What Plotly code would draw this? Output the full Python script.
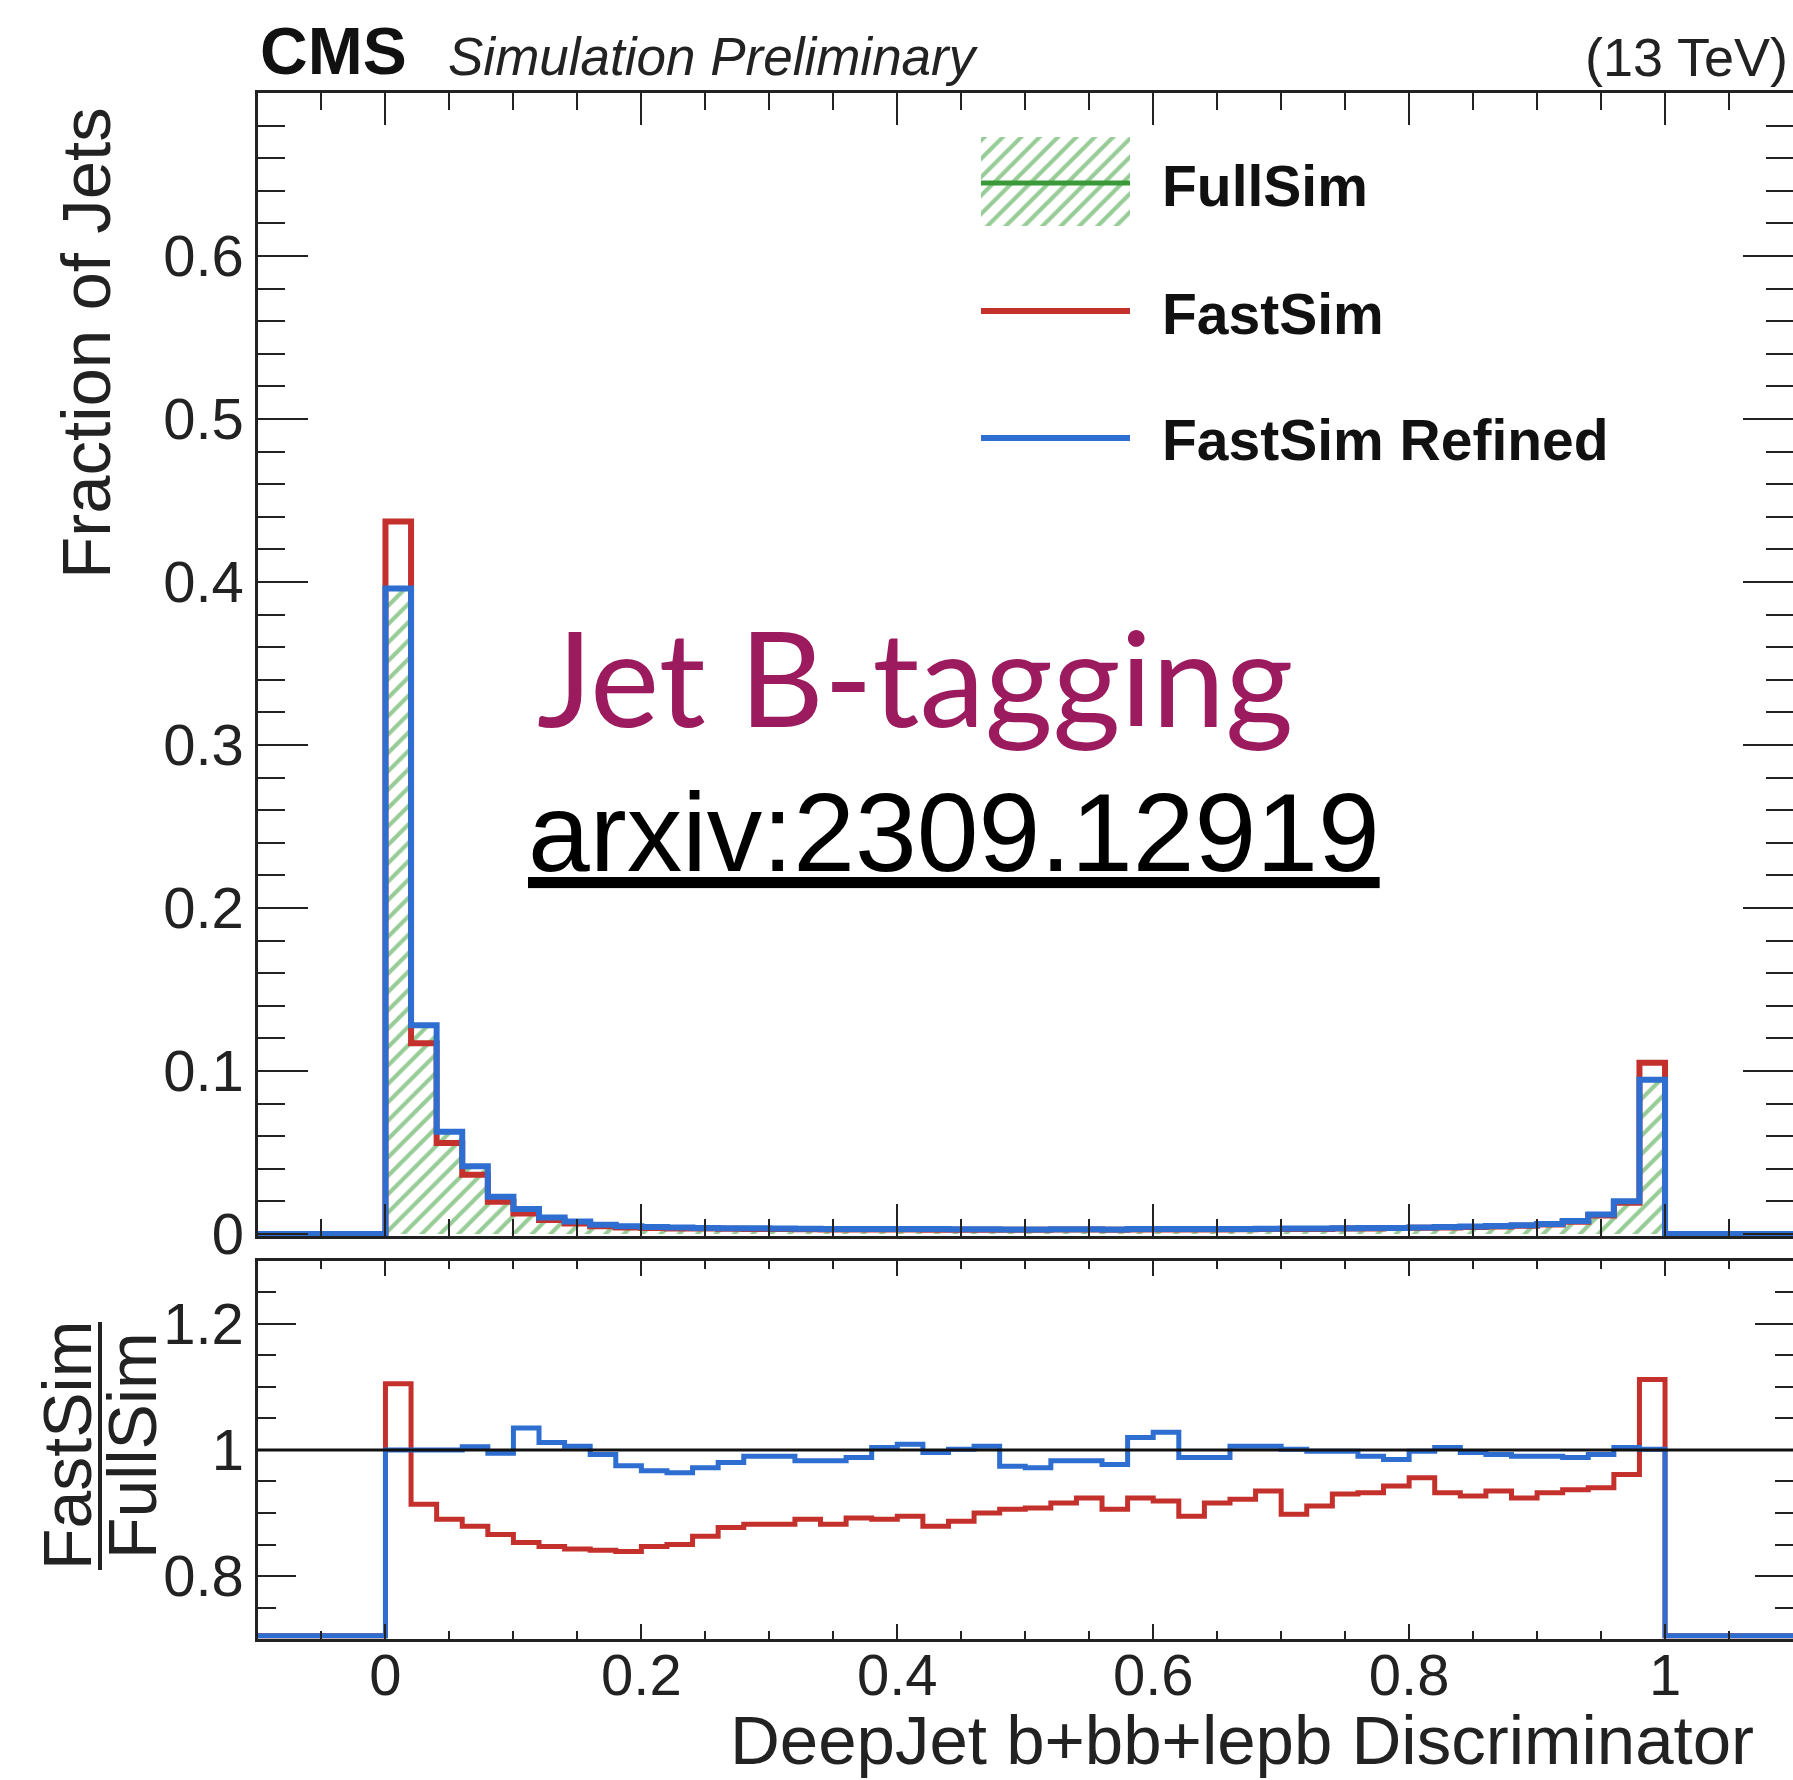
import numpy as np
import plotly.graph_objects as go

# ---------------- data (bins of width 0.02 from 0 to 1) ----------------
bin_width = 0.02
fullsim = [0.396, 0.128, 0.0627, 0.0413, 0.0229, 0.0148, 0.0100, 0.0076, 0.0056, 0.0048,
           0.0044, 0.0040, 0.0038, 0.0036, 0.0035, 0.0034, 0.0033, 0.0032, 0.0031, 0.0031,
           0.0030, 0.0030, 0.0029, 0.0029, 0.0029, 0.0029, 0.0029, 0.0029, 0.0029, 0.0030,
           0.0030, 0.0030, 0.0031, 0.0031, 0.0032, 0.0033, 0.0034, 0.0035, 0.0036, 0.0038,
           0.0040, 0.0042, 0.0045, 0.0049, 0.0054, 0.0062, 0.0080, 0.0120, 0.0200, 0.0945]
fastsim = [0.437, 0.117, 0.0558, 0.0363, 0.0198, 0.0126, 0.0085, 0.0064, 0.0047, 0.0040,
           0.0037, 0.0034, 0.0033, 0.0032, 0.0031, 0.0030, 0.0029, 0.0028, 0.0028, 0.0028,
           0.0027, 0.0026, 0.0026, 0.0026, 0.0026, 0.0026, 0.0027, 0.0027, 0.0026, 0.0028,
           0.0028, 0.0027, 0.0028, 0.0029, 0.0030, 0.0030, 0.0031, 0.0033, 0.0034, 0.0036,
           0.0038, 0.0039, 0.0042, 0.0046, 0.0050, 0.0058, 0.0075, 0.0113, 0.0192, 0.1051]
refined = [0.396, 0.128, 0.0627, 0.0415, 0.0228, 0.0153, 0.0101, 0.0076, 0.0056, 0.0047,
           0.0043, 0.0039, 0.0037, 0.0035, 0.0035, 0.0034, 0.0032, 0.0031, 0.0031, 0.0031,
           0.0030, 0.0030, 0.0029, 0.0029, 0.0028, 0.0028, 0.0029, 0.0029, 0.0028, 0.0031,
           0.0031, 0.0030, 0.0031, 0.0031, 0.0032, 0.0033, 0.0034, 0.0035, 0.0036, 0.0037,
           0.0040, 0.0042, 0.0045, 0.0049, 0.0053, 0.0061, 0.0079, 0.0119, 0.0201, 0.0946]

ratio_fastsim = [1.105, 0.914, 0.890, 0.879, 0.866, 0.853, 0.847, 0.843, 0.841, 0.839,
                 0.847, 0.850, 0.863, 0.877, 0.882, 0.882, 0.890, 0.882, 0.892, 0.890,
                 0.895, 0.879, 0.887, 0.900, 0.906, 0.908, 0.916, 0.924, 0.906, 0.924,
                 0.919, 0.895, 0.916, 0.922, 0.935, 0.898, 0.911, 0.930, 0.932, 0.943,
                 0.956, 0.932, 0.927, 0.935, 0.924, 0.932, 0.937, 0.940, 0.961, 1.112]
ratio_refined = [1.000, 1.000, 1.000, 1.005, 0.995, 1.035, 1.012, 1.006, 0.993, 0.975,
                 0.967, 0.964, 0.972, 0.980, 0.990, 0.990, 0.983, 0.983, 0.988, 1.004,
                 1.009, 0.996, 1.001, 1.006, 0.974, 0.972, 0.983, 0.983, 0.977, 1.020,
                 1.028, 0.988, 0.988, 1.006, 1.006, 1.001, 0.998, 0.998, 0.990, 0.985,
                 0.998, 1.004, 0.996, 0.993, 0.990, 0.990, 0.988, 0.993, 1.004, 1.001]

x_tick_vals = [0, 0.2, 0.4, 0.6, 0.8, 1.0]
x_tick_text = ["0", "0.2", "0.4", "0.6", "0.8", "1"]
y_tick_vals = [0, 0.1, 0.2, 0.3, 0.4, 0.5, 0.6]
y_tick_text = ["0", "0.1", "0.2", "0.3", "0.4", "0.5", "0.6"]
r_tick_vals = [0.8, 1.0, 1.2]
r_tick_text = ["0.8", "1", "1.2"]

# ---------------- helpers ----------------
W, H = 1793, 1780
XMIN, XMAX = -0.1, 1.1
n_pad = int(round((0 - XMIN) / bin_width))
edges = np.round(np.arange(XMIN, XMAX + 1e-9, bin_width), 4)


def step(vals):
    v = np.concatenate([np.zeros(n_pad), np.asarray(vals, float), np.zeros(n_pad)])
    return edges, np.append(v, v[-1])


RED = "#c4302b"
BLUE = "#2e6ed0"
GREEN = "#3a9a3a"
HATCH = "#2f9a2f"
FONT = "Liberation Sans, Arial, Helvetica, sans-serif"
AX = "#222222"
LW = 6

fig = go.Figure()

# ---- main panel ----
xs, ys = step(fullsim)
fig.add_trace(go.Scatter(x=xs, y=ys, mode="lines", line=dict(color=GREEN, width=2, shape="hv"),
                         fill="tozeroy", fillcolor="rgba(255,255,255,0)",
                         fillpattern=dict(shape="/", fgcolor=HATCH, bgcolor="rgba(0,0,0,0)",
                                          size=13, solidity=0.32),
                         xaxis="x", yaxis="y", showlegend=False, name="FullSim"))
xs, ys = step(fastsim)
fig.add_trace(go.Scatter(x=xs, y=ys, mode="lines", line=dict(color=RED, width=LW, shape="hv"),
                         xaxis="x", yaxis="y", showlegend=False, name="FastSim"))
xs, ys = step(refined)
fig.add_trace(go.Scatter(x=xs, y=ys, mode="lines", line=dict(color=BLUE, width=LW, shape="hv"),
                         xaxis="x", yaxis="y", showlegend=False, name="FastSim Refined"))

# ---- ratio panel ----
RMIN, RMAX = 0.7, 1.3
xs, ys = step(ratio_fastsim)
fig.add_trace(go.Scatter(x=xs, y=np.clip(ys, RMIN + 0.005, RMAX), mode="lines",
                         line=dict(color=RED, width=5, shape="hv"),
                         xaxis="x2", yaxis="y2", showlegend=False))
xs, ys = step(ratio_refined)
fig.add_trace(go.Scatter(x=xs, y=np.clip(ys, RMIN + 0.005, RMAX), mode="lines",
                         line=dict(color=BLUE, width=5, shape="hv"),
                         xaxis="x2", yaxis="y2", showlegend=False))
fig.add_shape(type="line", xref="x2", yref="y2", x0=XMIN, x1=XMAX, y0=1, y1=1,
              line=dict(color="#111111", width=3), layer="above")

# ---- custom legend (pixel overlay axes) ----
lx0, lx1 = 981, 1130
fig.add_trace(go.Scatter(x=[lx0, lx1, lx1, lx0, lx0], y=[137, 137, 226, 226, 137], mode="lines",
                         line=dict(width=0, color="rgba(0,0,0,0)"), fill="toself",
                         fillcolor="rgba(255,255,255,0)",
                         fillpattern=dict(shape="/", fgcolor=HATCH, bgcolor="rgba(0,0,0,0)",
                                          size=13, solidity=0.32),
                         xaxis="x3", yaxis="y3", showlegend=False, hoverinfo="skip"))
for yy, col, w in [(183, GREEN, 5), (311, RED, LW), (438, BLUE, LW)]:
    fig.add_trace(go.Scatter(x=[lx0, lx1], y=[yy, yy], mode="lines", line=dict(color=col, width=w),
                             xaxis="x3", yaxis="y3", showlegend=False, hoverinfo="skip"))

XDOM = [257.5 / W, 1.0]
common_x = dict(range=[XMIN, XMAX], showgrid=False, zeroline=False, showline=True, linewidth=3,
                linecolor=AX, mirror="allticks", ticks="inside", tickcolor=AX, tickwidth=2,
                tickmode="array", tickvals=x_tick_vals, ticktext=x_tick_text, automargin=False)

fig.update_layout(
    width=W, height=H, margin=dict(l=0, r=0, t=0, b=0, autoexpand=False),
    paper_bgcolor="white", plot_bgcolor="rgba(0,0,0,0)",
    font=dict(family=FONT, color="#111111"),
    xaxis=dict(domain=XDOM, anchor="y", showticklabels=False, ticklen=32,
               minor=dict(ticks="inside", tickmode="linear", tick0=0, dtick=0.05, ticklen=17,
                          tickcolor=AX, tickwidth=2),
               **common_x),
    yaxis=dict(domain=[0.3054, 0.9478], anchor="x", range=[-0.0015, 0.7], showgrid=False,
               zeroline=False, showline=True, linewidth=3, linecolor=AX, mirror="allticks",
               ticks="inside", ticklen=50, tickcolor=AX, tickwidth=2, automargin=False,
               tickmode="array", tickvals=y_tick_vals, ticktext=y_tick_text,
               tickfont=dict(size=58, family=FONT, color="#222"), ticklabelstandoff=-1,
               minor=dict(ticks="inside", tickmode="linear", tick0=0, dtick=0.02, ticklen=27,
                          tickcolor=AX, tickwidth=2)),
    xaxis2=dict(domain=XDOM, anchor="y2", showticklabels=True, ticklen=15,
                tickfont=dict(size=58, family=FONT, color="#222"), ticklabelstandoff=-17,
                minor=dict(ticks="inside", tickmode="linear", tick0=0, dtick=0.05, ticklen=8,
                           tickcolor=AX, tickwidth=2),
                **common_x),
    yaxis2=dict(domain=[0.0792, 0.2916], anchor="x2", range=[RMIN, RMAX], showgrid=False,
                zeroline=False, showline=True, linewidth=3, linecolor=AX, mirror="allticks",
                ticks="inside", ticklen=38, tickcolor=AX, tickwidth=2, automargin=False,
                tickmode="array", tickvals=r_tick_vals, ticktext=r_tick_text,
                tickfont=dict(size=58, family=FONT, color="#222"), ticklabelstandoff=-1,
                minor=dict(ticks="inside", tickmode="linear", tick0=0.7, dtick=0.05, ticklen=18,
                           tickcolor=AX, tickwidth=2)),
    xaxis3=dict(domain=[0, 1], anchor="y3", range=[0, W], visible=False, fixedrange=True,
                automargin=False),
    yaxis3=dict(domain=[0, 1], anchor="x3", range=[H, 0], visible=False, fixedrange=True,
                automargin=False),
)


def px(xp):
    return xp / W


def py(yp):
    return 1 - yp / H


ann = [
    dict(text="<b>CMS</b>", x=px(258), y=py(51), xanchor="left", yanchor="middle",
         font=dict(size=66, family=FONT, color="#111")),
    dict(text="<i>Simulation Preliminary</i>", x=px(446), y=py(57), xanchor="left", yanchor="middle",
         font=dict(size=53, family=FONT, color="#222")),
    dict(text="(13 TeV)", x=px(1790), y=py(57), xanchor="right", yanchor="middle",
         font=dict(size=54, family=FONT, color="#222")),
    dict(text="Fraction of Jets", x=px(86), y=py(343), xanchor="center", yanchor="middle",
         textangle=-90, font=dict(size=69, family=FONT, color="#222")),
    dict(text="DeepJet b+bb+lepb Discriminator", x=px(1756), y=py(1740), xanchor="right",
         yanchor="middle", font=dict(size=69, family=FONT, color="#222")),
    dict(text="FastSim", x=px(67), y=py(1446), xanchor="center", yanchor="middle", textangle=-90,
         font=dict(size=68, family=FONT, color="#222")),
    dict(text="FullSim", x=px(132), y=py(1446), xanchor="center", yanchor="middle", textangle=-90,
         font=dict(size=68, family=FONT, color="#222")),
    dict(text="<b>FullSim</b>", x=px(1160), y=py(186), xanchor="left", yanchor="middle",
         font=dict(size=57, family=FONT, color="#111")),
    dict(text="<b>FastSim</b>", x=px(1160), y=py(314), xanchor="left", yanchor="middle",
         font=dict(size=57, family=FONT, color="#111")),
    dict(text="<b>FastSim Refined</b>", x=px(1160), y=py(440), xanchor="left", yanchor="middle",
         font=dict(size=57, family=FONT, color="#111")),
    dict(text="Jet B-tagging", x=px(915), y=py(677), xanchor="center", yanchor="middle",
         font=dict(size=131, family="Lato, sans-serif", color="#9b1b5e")),
    dict(text="<u>arxiv:2309.12919</u>", x=px(954), y=py(833), xanchor="center", yanchor="middle",
         font=dict(size=111, family=FONT, color="#000")),
]
for a in ann:
    a.update(xref="paper", yref="paper", showarrow=False)
fig.update_layout(annotations=ann)

# fraction bar of the ratio title
fig.add_shape(type="line", xref="paper", yref="paper", x0=px(100), x1=px(100),
              y0=py(1322), y1=py(1570), line=dict(color="#222", width=4))

fig.write_html("out.html")
